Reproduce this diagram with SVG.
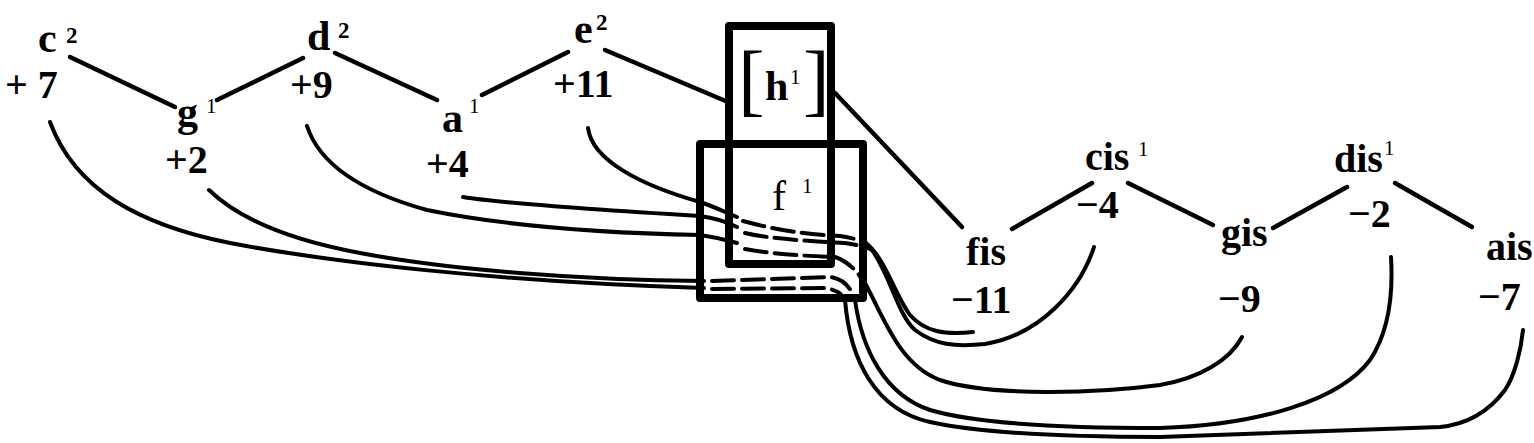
<svg xmlns="http://www.w3.org/2000/svg" width="1534" height="443" viewBox="0 0 1534 443">
<style>
text{font-family:"Liberation Serif","Times New Roman",serif;fill:#000}
.lb{font-size:42px;font-weight:bold}
.nm{font-size:40px;font-weight:bold}
.rl{font-size:40px;font-weight:bold}
.sp{font-size:21px}
.s2{font-size:23px;font-weight:bold}
.br{font-size:80px}
.ln{fill:none;stroke:#000;stroke-width:4.5;stroke-linecap:round;stroke-linejoin:round}
.cv{fill:none;stroke:#000;stroke-width:4;stroke-linecap:round;stroke-linejoin:round}
.ds{fill:none;stroke:#000;stroke-width:4;stroke-dasharray:22 8;stroke-linecap:round}
.bx{fill:none;stroke:#000;stroke-width:8;stroke-linejoin:round}
</style>
<rect width="1534" height="443" fill="#fff"/>
<g id="connectors">
<line class="ln" x1="70" y1="57" x2="175" y2="107"/>
<line class="ln" x1="217" y1="100" x2="303" y2="58"/>
<line class="ln" x1="335" y1="53" x2="437" y2="100"/>
<line class="ln" x1="482" y1="95" x2="568" y2="52"/>
<line class="ln" x1="605" y1="50" x2="728" y2="102"/>
<line class="ln" x1="835" y1="93" x2="962" y2="227"/>
<line class="ln" x1="1012" y1="229" x2="1092" y2="183"/>
<line class="ln" x1="1128" y1="183" x2="1213" y2="225"/>
<line class="ln" x1="1273" y1="228" x2="1347" y2="187"/>
<line class="ln" x1="1395" y1="183" x2="1472" y2="227"/>
<path class="cv" d="M50,122 C75,190 140,225 230,243 C330,262 500,282 704,288"/>
<path class="cv" d="M209,190 C240,220 290,240 360,253 C450,270 580,280 704,281"/>
<path class="cv" d="M307,126 C318,160 355,190 427,210 C500,225 600,233 700,235 C715,237 727,240 737,243"/>
<path class="cv" d="M463,197 C500,203 600,210 700,216 C715,218 727,222 737,227"/>
<path class="cv" d="M588,128 C592,160 640,185 700,202 C715,207 725,212 737,217"/>
<path class="ds" d="M743,221 C765,227 795,234 840,236 C852,238 860,240 866,243"/>
<path class="ds" d="M745,233 C770,239 810,241 845,243 C858,245 866,247 872,250"/>
<path class="ds" d="M745,249 C765,253 800,256 835,257 C850,262 860,275 866,285"/>
<path class="ds" d="M712,281 L830,277 C845,279 852,290 855,300"/>
<path class="ds" d="M712,289 L825,288 C838,290 843,295 845,300"/>
<path class="cv" d="M866,243 C885,258 895,295 910,315 C925,332 945,335 973,332"/>
<path class="cv" d="M872,250 C890,275 898,315 915,330 C935,345 955,347 985,344 C1040,335 1080,290 1094,247"/>
<path class="cv" d="M866,285 C885,320 900,365 940,380 C990,397 1100,393 1160,385 C1200,378 1230,360 1242,337"/>
<path class="cv" d="M855,300 C862,350 885,395 930,410 C980,425 1080,428 1160,428 C1260,425 1340,400 1370,360 C1390,330 1393,290 1391,257"/>
<path class="cv" d="M845,300 C850,360 875,410 930,422 C990,435 1100,437 1160,437 L1440,427 C1470,424 1490,410 1505,390 C1515,375 1521,350 1523,330"/>
</g>
<g id="node-c2"><text class="lb" x="38" y="52">c</text><text class="s2" x="66" y="43">2</text><text class="nm" x="5" y="98">+ 7</text></g>
<g id="node-g1"><text class="lb" x="177" y="126">g</text><text class="sp" x="206" y="113">1</text><text class="nm" x="165" y="173">+2</text></g>
<g id="node-d2"><text class="lb" x="307" y="50">d</text><text class="s2" x="338" y="38">2</text><text class="nm" x="290" y="98">+9</text></g>
<g id="node-a1"><text class="lb" x="442" y="132">a</text><text class="sp" x="469" y="113">1</text><text class="nm" x="426" y="177">+4</text></g>
<g id="node-e2"><text class="lb" x="574" y="43">e</text><text class="s2" x="596" y="30">2</text><text class="nm" x="553" y="97">+11</text></g>
<g id="node-h1"><rect class="bx" x="729" y="26" width="102" height="238"/><text class="br" x="738" y="106">[</text><text class="lb" x="765" y="100">h</text><text class="sp" x="790" y="84">1</text><text class="br" x="803" y="106">]</text></g>
<g id="node-f1"><rect class="bx" x="700" y="144" width="163" height="154"/><text style="font-size:42px" x="772" y="210">f</text><text class="sp" x="802" y="193">1</text></g>
<g id="node-fis"><text class="rl" x="966" y="265">fis</text><text class="rl" x="951" y="313">−11</text></g>
<g id="node-cis1"><text class="rl" x="1085" y="170">cis</text><text class="sp" x="1138" y="156">1</text><text class="rl" x="1076" y="218">−4</text></g>
<g id="node-gis"><text class="rl" x="1221" y="246">gis</text><text class="rl" x="1218" y="312">−9</text></g>
<g id="node-dis1"><text class="rl" x="1334" y="172">dis</text><text class="sp" x="1384" y="155">1</text><text class="rl" x="1348" y="227">−2</text></g>
<g id="node-ais"><text class="rl" x="1486" y="260">ais</text><text class="rl" x="1478" y="310">−7</text></g>
</svg>
